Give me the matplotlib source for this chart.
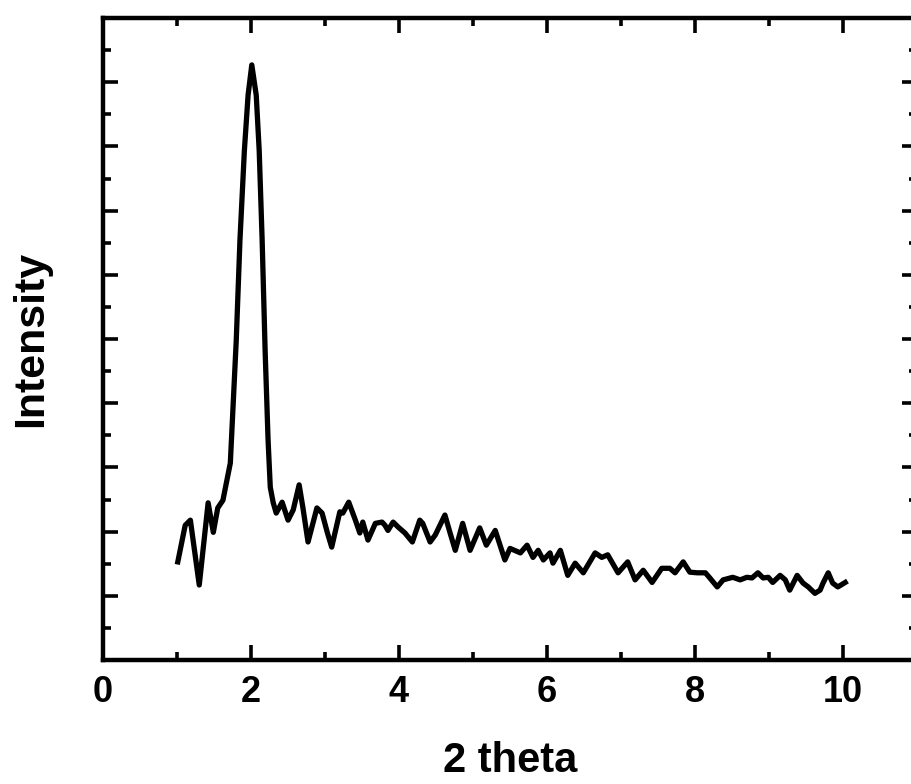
import matplotlib
matplotlib.use('Agg')
import matplotlib.pyplot as plt
from matplotlib.ticker import MultipleLocator

plt.rcParams['font.family'] = ['Liberation Sans', 'DejaVu Sans']
plt.rcParams['font.weight'] = 'bold'

# Datos (unidades arbitrarias de intensidad)
two_theta = [
    1.01, 1.11, 1.18, 1.30, 1.42, 1.49, 1.55, 1.62, 1.72, 1.80,
    1.85, 1.91, 1.96, 2.01, 2.07, 2.11, 2.15, 2.19, 2.23, 2.26,
    2.30, 2.34, 2.42, 2.50, 2.57, 2.65, 2.70, 2.77, 2.89, 2.96,
    3.03, 3.09, 3.20, 3.24, 3.32, 3.41, 3.47, 3.51, 3.58, 3.68,
    3.77, 3.81, 3.85, 3.92, 3.99, 4.08, 4.18, 4.28, 4.32, 4.42,
    4.49, 4.62, 4.69, 4.76, 4.86, 4.96, 5.09, 5.18, 5.30, 5.43,
    5.50, 5.64, 5.73, 5.81, 5.88, 5.95, 6.04, 6.08, 6.18, 6.28,
    6.38, 6.49, 6.65, 6.74, 6.82, 6.96, 7.09, 7.19, 7.30, 7.42,
    7.55, 7.66, 7.73, 7.84, 7.93, 8.03, 8.14, 8.20, 8.30, 8.38,
    8.51, 8.61, 8.70, 8.77, 8.85, 8.92, 8.99, 9.05, 9.15, 9.22,
    9.28, 9.38, 9.46, 9.53, 9.62, 9.69, 9.73, 9.80, 9.86, 9.93,
    10.03,
]
intensity = [
    1.53, 2.10, 2.18, 1.17, 2.45, 1.99, 2.37, 2.49, 3.07, 4.98,
    6.54, 7.94, 8.80, 9.27, 8.80, 7.94, 6.54, 4.83, 3.43, 2.69,
    2.45, 2.29, 2.46, 2.18, 2.34, 2.73, 2.38, 1.84, 2.37, 2.29,
    1.99, 1.76, 2.31, 2.29, 2.46, 2.18, 1.98, 2.15, 1.87, 2.13,
    2.15, 2.10, 2.02, 2.15, 2.07, 1.98, 1.84, 2.18, 2.13, 1.84,
    1.95, 2.26, 1.98, 1.71, 2.13, 1.71, 2.06, 1.79, 2.02, 1.56,
    1.74, 1.67, 1.79, 1.60, 1.71, 1.56, 1.67, 1.51, 1.71, 1.32,
    1.51, 1.36, 1.67, 1.60, 1.64, 1.36, 1.53, 1.25, 1.40, 1.21,
    1.43, 1.43, 1.36, 1.53, 1.37, 1.36, 1.36, 1.28, 1.14, 1.25,
    1.29, 1.25, 1.29, 1.28, 1.36, 1.28, 1.29, 1.21, 1.32, 1.25,
    1.09, 1.32, 1.20, 1.14, 1.04, 1.09, 1.20, 1.36, 1.20, 1.14,
    1.21,
]
x_ticks = [0, 2, 4, 6, 8, 10]

fig = plt.figure(figsize=(9.12, 7.84), dpi=100)
# el eje derecho queda justo fuera de la imagen, como en el original
ax = fig.add_axes([0.113, 0.158, 0.8925, 0.819])

ax.plot(two_theta, intensity, color='black', linewidth=3.8,
        solid_joinstyle='round')

ax.set_xlim(0, 11)
ax.set_ylim(0, 10)
ax.set_xticks(x_ticks)
ax.xaxis.set_minor_locator(MultipleLocator(1))
ax.yaxis.set_major_locator(MultipleLocator(1))
ax.yaxis.set_minor_locator(MultipleLocator(0.5))

for s in ax.spines.values():
    s.set_linewidth(3.2)

ax.tick_params(which='both', direction='in', top=True, right=True, width=2.6)
ax.tick_params(which='major', length=11)
ax.tick_params(which='minor', length=6)
ax.tick_params(axis='x', labelsize=26, pad=11)
ax.tick_params(axis='y', labelleft=False)

ax.set_xlabel('2 theta', fontsize=30, fontweight='bold', labelpad=22)
ax.set_ylabel('Intensity', fontsize=31, fontweight='bold', labelpad=34)

fig.savefig('out.png', dpi=100)
